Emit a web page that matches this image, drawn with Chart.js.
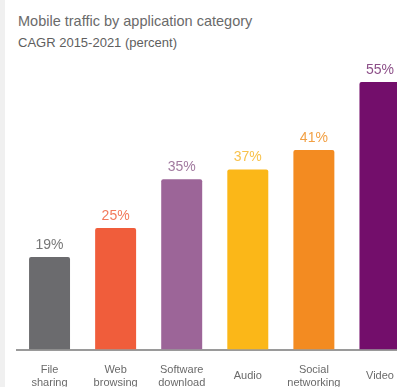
<!DOCTYPE html>
<html>
<head>
<meta charset="utf-8">
<script src="https://cdn.jsdelivr.net/npm/chart.js@4"></script>
<style>
  html, body { margin: 0; padding: 0; background: #fff; overflow: hidden; }
  body { width: 397px; height: 387px; position: relative; font-family: "Liberation Sans", Arial, sans-serif; }
  .strip { position: absolute; left: 0; top: 0; width: 5px; height: 387px; background: #f0f0f0; }
  .title { position: absolute; left: 18px; top: 13px; font-size: 14.5px; color: #6a6a6a; white-space: nowrap; }
  .subtitle { position: absolute; left: 18px; top: 35px; font-size: 13px; color: #5e5e5e; white-space: nowrap; }
  .wrap { position: absolute; left: 0; top: 0; width: 413px; height: 408px; }
</style>
</head>
<body>
<div class="strip"></div>
<div class="title">Mobile traffic by application category</div>
<div class="subtitle">CAGR 2015-2021 (percent)</div>
<div class="wrap"><canvas id="trafficChart"></canvas></div>
<script>
// Datos del gráfico
const categorias = [['File', 'sharing'], ['Web', 'browsing'], ['Software', 'download'], 'Audio', ['Social', 'networking'], 'Video'];
const cagr = [19, 25, 35, 37, 41, 55];
const coloresBarra = ['#6b6b6e', '#f05d3b', '#9c6598', '#fbb718', '#f38b21', '#730e6b'];
const coloresTexto = ['#777777', '#f27a5c', '#a27ba0', '#f8c24c', '#f2a044', '#8c4f88'];

// Etiquetas de valor encima de cada barra
const valorEtiquetas = {
    id: 'valorEtiquetas',
    afterDatasetsDraw(chart) {
        const ctx = chart.ctx;
        const meta = chart.getDatasetMeta(0);
        ctx.save();
        ctx.font = '14px "Liberation Sans", Arial, sans-serif';
        ctx.textAlign = 'center';
        ctx.textBaseline = 'bottom';
        meta.data.forEach((bar, i) => {
            ctx.fillStyle = coloresTexto[i];
            ctx.fillText(cagr[i] + '%', bar.x, bar.y - 5);
        });
        ctx.restore();
    }
};

const trafficChart = new Chart(document.getElementById('trafficChart'), {
    type: 'bar',
    data: {
        labels: categorias,
        datasets: [{
            data: cagr,
            backgroundColor: coloresBarra,
            borderRadius: 2,
            borderSkipped: 'bottom',
            barPercentage: 0.62,
            categoryPercentage: 1
        }]
    },
    options: {
        responsive: true,
        maintainAspectRatio: false,
        animation: false,
        layout: {
            padding: { left: 16.5, top: 60, right: 0, bottom: 0 }
        },
        plugins: {
            legend: { display: false },
            tooltip: { enabled: false }
        },
        scales: {
            y: {
                display: false,
                min: 0,
                max: 59.5
            },
            x: {
                grid: { display: false },
                border: { display: true, color: '#9a9a9a', width: 2 },
                ticks: {
                    color: '#6a6a6a',
                    padding: 12,
                    crossAlign: 'center',
                    maxRotation: 0,
                    font: { family: '"Liberation Sans", Arial, sans-serif', size: 11 }
                }
            }
        }
    },
    plugins: [valorEtiquetas]
});
</script>
</body>
</html>
